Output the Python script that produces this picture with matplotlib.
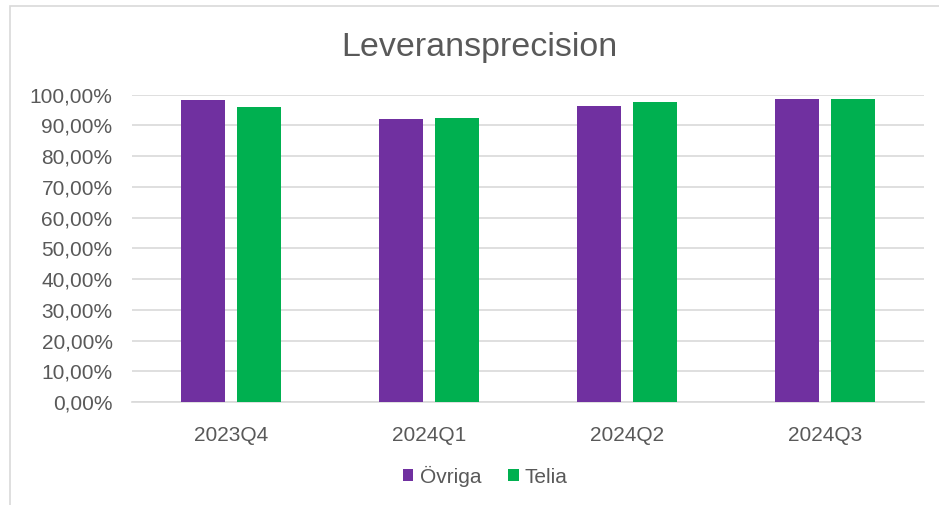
import numpy as np
import matplotlib.pyplot as plt
from matplotlib.patches import Rectangle
from matplotlib.ticker import FuncFormatter

# Data
quarters = ['2023Q4', '2024Q1', '2024Q2', '2024Q3']
ovriga = [0.983, 0.922, 0.964, 0.986]
telia = [0.960, 0.923, 0.976, 0.987]

plt.rcParams['font.family'] = ['Liberation Sans', 'DejaVu Sans']
text_color = '#595959'

fig = plt.figure(figsize=(9.39, 5.05), dpi=100)
ax = fig.add_axes([0.1406, 0.204, 0.8434, 0.6085])

# chart border (open at the bottom / right, cropped in the original)
fig.patches.append(Rectangle((10 / 939, -0.05), 1.0, 1.038, transform=fig.transFigure,
                             fill=False, edgecolor='#d9d9d9', linewidth=1.2))

x = np.arange(len(quarters))
w = 0.222
off = 0.141
ax.bar(x - off, ovriga, w, color='#7030A0', label='Övriga', zorder=3)
ax.bar(x + off, telia, w, color='#00B050', label='Telia', zorder=3)

ax.set_xlim(-0.5, len(quarters) - 0.5)
ax.set_ylim(0, 1.0)
ax.set_yticks(np.arange(0, 1.01, 0.1))
ax.yaxis.set_major_formatter(FuncFormatter(lambda v, p: f'{v * 100:.2f}%'.replace('.', ',')))
ax.set_xticks(x)
ax.set_xticklabels(quarters)

ax.grid(axis='y', color='#d9d9d9', linewidth=1.2, zorder=0)
for s in ['top', 'right', 'left']:
    ax.spines[s].set_visible(False)
ax.spines['bottom'].set_color('#d9d9d9')
ax.spines['bottom'].set_linewidth(1.2)
ax.tick_params(axis='both', length=0, labelsize=15, colors=text_color)
ax.tick_params(axis='x', pad=17)
ax.tick_params(axis='y', pad=14)

fig.text(0.511, 0.905, 'Leveransprecision', ha='center', va='center',
         fontsize=24.5, color=text_color)

fig.legend(loc='center', bbox_to_anchor=(0.517, 0.057), ncol=2, frameon=False,
           fontsize=15, handlelength=0.5, handleheight=0.5, handletextpad=0.3,
           columnspacing=1.3, labelcolor=text_color)

fig.savefig('out.png', dpi=100)
